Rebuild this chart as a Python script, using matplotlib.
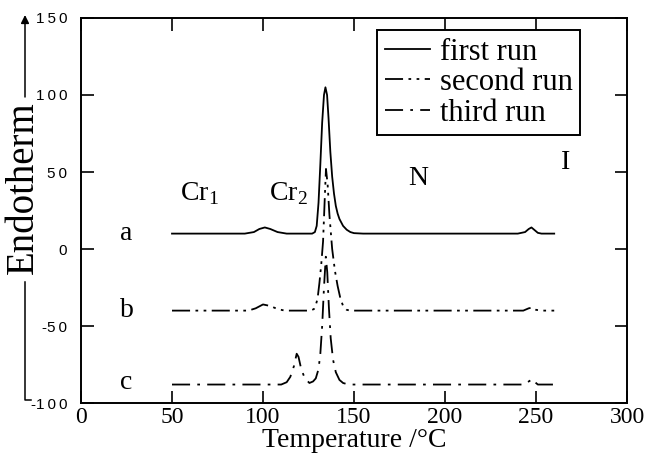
import numpy as np
import matplotlib.pyplot as plt

plt.rcParams['font.family'] = ['Liberation Serif', 'DejaVu Serif']
plt.rcParams['mathtext.fontset'] = 'custom'
plt.rcParams['mathtext.rm'] = 'Liberation Serif'

# DSC traces (temperature in degC, heat flow in arbitrary units, offset per run)
t_first = [50, 90, 95, 98, 101, 104, 108, 113, 125, 127, 128.5, 129.5, 130.5, 131.5,
           132.5, 133.5, 134.3, 135.2, 136, 137, 138, 139, 140, 141, 142, 144, 146,
           148, 150, 155, 240, 244, 246, 247.5, 249, 251, 253, 260]
q_first = [10, 10, 11, 13, 14, 13, 11, 10, 10, 10, 11, 15, 30, 55,
           82, 100, 105, 100, 85, 63, 47, 36, 28, 23, 19.5, 15, 12.5,
           11, 10.3, 10, 10, 11, 13, 14, 12.5, 10.5, 10, 10]

t_second = [50, 92, 96, 100, 104, 108, 112, 126, 128, 129, 130, 131, 132, 133, 134,
            134.6, 135.5, 136.5, 138, 139.5, 141, 142.5, 144, 146, 148, 243, 246,
            248, 250, 253, 260]
q_second = [-40, -40, -38.5, -36, -37, -39, -40, -40, -39, -36.5, -32, -22, -10, 5, 35,
            52, 42, 22, 0, -14, -24, -32, -37, -39.5, -40, -40, -38.5,
            -38, -39.5, -40, -40]

t_third = [50, 110, 113, 115, 117, 118.5, 119.5, 121, 123, 125.5, 127.5, 129, 130.5,
           131.5, 132.5, 133.5, 134.5, 135.3, 136.2, 137.2, 138.5, 140, 142, 144, 147,
           243, 246, 248, 249, 251, 260]
q_third = [-88, -88, -86.5, -83, -76, -68, -70, -78, -84, -87, -86, -84, -78,
           -68, -50, -25, -5, -15, -38, -58, -72, -80, -85, -87, -88,
           -88, -86, -84.5, -86, -88, -88]

run_names = ['first run', 'second run', 'third run']
trace_tags = ['a', 'b', 'c']
tag_levels = [10, -40, -87]

phase_names = ['Cr$_\\mathrm{1}$', 'Cr$_\\mathrm{2}$', 'N', 'I']
phase_t = [65, 114, 185, 266]
phase_q = [36, 36, 46, 56]

x_ticks = [0, 50, 100, 150, 200, 250, 300]
y_ticks = [-100, -50, 0, 50, 100, 150]
y_ticklabels = ['-1\u20090\u20090', '-5\u20090', '0', '5\u20090', '1\u20090\u20090', '1\u20095\u20090']

fig = plt.figure(figsize=(6.46, 4.65), dpi=100)
ax = fig.add_axes([0.1254, 0.1333, 0.8452, 0.828])

ax.plot(t_first, q_first, color='black', lw=1.3, label=run_names[0])
ax.plot(t_second, q_second, color='black', lw=1.3, dashes=(10, 3, 1.5, 3, 1.5, 3),
        label=run_names[1])
ax.plot(t_third, q_third, color='black', lw=1.3, dashes=(10, 4, 1.5, 4),
        label=run_names[2])

for tag, level in zip(trace_tags, tag_levels):
    ax.text(25, level, tag, fontsize=20, ha='center', va='center')
for name, xt, yq in zip(phase_names, phase_t, phase_q):
    ax.text(xt, yq, name, fontsize=20, ha='center', va='center')

ax.set_xlim(0, 300)
ax.set_ylim(-100, 150)
ax.set_xticks(x_ticks)
ax.set_yticks(y_ticks)
ax.set_yticklabels(y_ticklabels, family=['Liberation Sans', 'DejaVu Sans'], fontsize=11)
ax.tick_params(axis='x', labelsize=17, pad=3)
ax.tick_params(direction='in', length=9, width=1.2, top=True, right=True)
ax.tick_params(axis='y', pad=10)
for s in ax.spines.values():
    s.set_linewidth(1.4)

ax.set_xlabel('Temperature /\u00b0C', fontsize=20, labelpad=0)

# rotated axis title with an arrow running past it
fig.text(23 / 646, 1 - 188 / 465, 'Endotherm', rotation=90, fontsize=28,
         ha='center', va='center')
fig.add_artist(plt.Line2D([31 / 646, 25 / 646, 25 / 646],
                          [1 - 400 / 465, 1 - 400 / 465, 1 - 282 / 465],
                          transform=fig.transFigure, color='black', lw=1.1))
ax.annotate('', xy=(25 / 646, 1 - 15 / 465), xytext=(25 / 646, 1 - 97 / 465),
            xycoords='figure fraction', textcoords='figure fraction',
            arrowprops=dict(arrowstyle='-|>', color='black', lw=1.1,
                            mutation_scale=12, shrinkA=0, shrinkB=0))

leg = ax.legend(loc='upper left', bbox_to_anchor=(0.542, 0.969), borderaxespad=0,
                fontsize=22, handlelength=1.5, handletextpad=0.3, labelspacing=0.05,
                borderpad=0.25, fancybox=False, framealpha=1, edgecolor='black')
leg.get_frame().set_linewidth(1.4)

fig.savefig('out.png', dpi=100)
